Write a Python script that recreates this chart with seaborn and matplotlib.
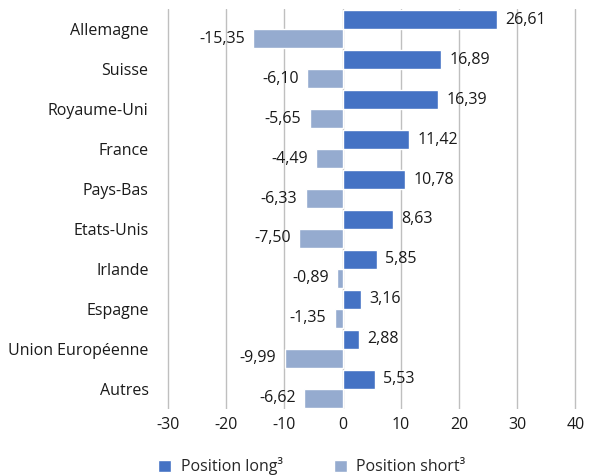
import seaborn as sns
import matplotlib.pyplot as plt
import pandas as pd

pays = ["Allemagne", "Suisse", "Royaume-Uni", "France", "Pays-Bas",
        "Etats-Unis", "Irlande", "Espagne", "Union Européenne", "Autres"]
position_long = [26.61, 16.89, 16.39, 11.42, 10.78, 8.63, 5.85, 3.16, 2.88, 5.53]
position_short = [-15.35, -6.10, -5.65, -4.49, -6.33, -7.50, -0.89, -1.35, -9.99, -6.62]
series = ["Position long³", "Position short³"]
xticks = [-30, -20, -10, 0, 10, 20, 30, 40]

df = pd.DataFrame({
    "Pays": pays * 2,
    "Valeur": position_long + position_short,
    "Serie": [series[0]] * len(pays) + [series[1]] * len(pays),
})

sns.set_style("white")
plt.rcParams["font.family"] = ["Open Sans", "DejaVu Sans"]

fig = plt.figure(figsize=(5.9, 4.75), dpi=100)
ax = fig.add_axes([0.28, 0.139, 0.70, 0.842])

ax.set_axisbelow(True)
for t in xticks:
    ax.axvline(t, color="#BFBFBF", lw=1, zorder=0)

sns.barplot(data=df, y="Pays", x="Valeur", hue="Serie", hue_order=series,
            palette=["#4472C4", "#95ABCF"], orient="h", width=0.95,
            saturation=1, ax=ax, legend=True)

for cont in ax.containers:
    labels = [f"{b.get_width():.2f}".replace(".", ",") for b in cont]
    ax.bar_label(cont, labels=labels, padding=6, fontsize=11.5, color="#1a1a1a")

ax.set_xlim(-30.5, 40.5)
ax.set_ylim(9.5, -0.5)
ax.set_xticks(xticks)
ax.set_xticklabels([str(t) for t in xticks], fontsize=11.5, color="#1a1a1a")
ax.tick_params(axis="y", labelsize=11.5, labelcolor="#1a1a1a", length=0, pad=12)
ax.tick_params(axis="x", length=0, pad=6)
ax.set_xlabel("")
ax.set_ylabel("")
sns.despine(ax=ax, left=True, bottom=True)

handles, labs = ax.get_legend_handles_labels()
ax.legend(handles, labs, loc="upper center", bbox_to_anchor=(0.355, -0.085),
          ncol=2, frameon=False, fontsize=11.5, handlelength=0.8,
          handleheight=0.8, columnspacing=3.2, handletextpad=0.6)

fig.savefig("out.png", dpi=100)
